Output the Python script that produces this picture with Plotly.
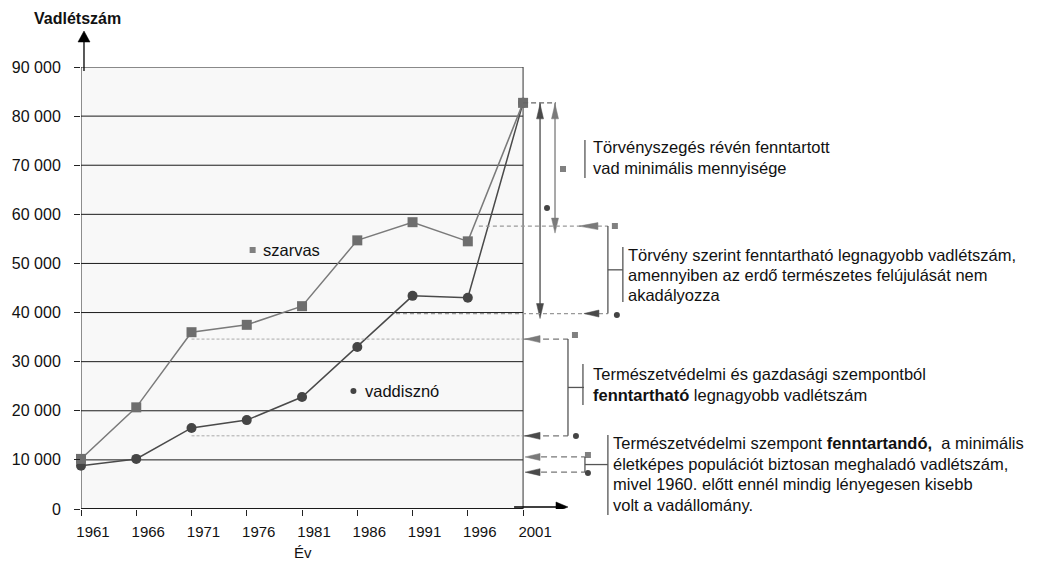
import plotly.graph_objects as go

# ---------------- data ----------------
years = [1961, 1966, 1971, 1976, 1981, 1986, 1991, 1996, 2001]
year_labels = [str(y) for y in years]
szarvas = [10200, 20700, 36000, 37500, 41300, 54700, 58400, 54500, 82700]
vaddiszno = [8800, 10200, 16500, 18100, 22800, 33000, 43400, 43000, 82700]

y_ticks = [0, 10000, 20000, 30000, 40000, 50000, 60000, 70000, 80000, 90000]
y_tick_labels = ["0", "10 000", "20 000", "30 000", "40 000", "50 000",
                 "60 000", "70 000", "80 000", "90 000"]

# reference levels: [szarvas, vaddisznó]
legal_max = [57600, 39800]        # Törvény szerint fenntartható legnagyobb
sustainable_max = [34600, 14900]  # természetvédelmi és gazdasági szempontból fenntartható
minimum_keep = [10600, 7500]      # fenntartandó minimális
peak = 82700

# ---------------- geometry (page pixels) ----------------
PAGE_W, PAGE_H = 1039, 561
BODY = 8                               # default body margin of the html page
PLOT_L, PLOT_R, PLOT_T, PLOT_B = 79, 1035, 67, 509
PX_FIRST, PX_LAST = 79, 522            # pixel of first / last year
Y_TOP = 90000
W, H = PAGE_W - BODY, PAGE_H - BODY
ML, MT = PLOT_L - BODY, PLOT_T - BODY
MR, MB = W - (PLOT_R - BODY), H - (PLOT_B - BODY)
plot_w = PLOT_R - PLOT_L
plot_h = PLOT_B - PLOT_T
px_per_year = (PX_LAST - PX_FIRST) / (years[-1] - years[0])
x_max = years[0] + plot_w / px_per_year


def X(px):   # page pixel -> x data
    return years[0] + (px - PLOT_L) / px_per_year


def Y(py):   # page pixel -> y data
    return (PLOT_B - py) * Y_TOP / plot_h


def PX(px):  # page pixel -> paper x
    return (px - PLOT_L) / plot_w


def PY(py):  # page pixel -> paper y
    return (PLOT_B - py) / plot_h


FONT = "Liberation Sans, Arial, sans-serif"
TXT = 16.5
C_SZ = "#7a7a7a"   # szarvas
C_VD = "#4a4a4a"   # vaddisznó
C_BR = "#555555"

shapes = []
annotations = []


def line(x0, y0, x1, y1, color=C_BR, width=1.3, dash=None, xref="x", yref="y", layer="above"):
    d = dict(type="line", x0=x0, y0=y0, x1=x1, y1=y1, xref=xref, yref=yref,
             line=dict(color=color, width=width), layer=layer)
    if dash:
        d["line"]["dash"] = dash
    shapes.append(d)


def head(x, y, direction, color, length=15, half=3.5, xref="x", yref="y", offset=0):
    if direction == "left":
        p = f"M{-offset},0 L{length - offset},{half} L{length - offset},{-half} Z"
    elif direction == "right":
        p = f"M{offset},0 L{offset - length},{half} L{offset - length},{-half} Z"
    elif direction == "up":
        p = f"M0,{offset} L{half},{offset - length} L{-half},{offset - length} Z"
    else:  # down
        p = f"M0,{-offset} L{half},{length - offset} L{-half},{length - offset} Z"
    shapes.append(dict(type="path", xref=xref, yref=yref, xsizemode="pixel", ysizemode="pixel",
                       xanchor=x, yanchor=y, path=p, fillcolor=color,
                       line=dict(color=color, width=0.5), layer="above"))


def text(x, y, s, xref="x", yref="y", size=TXT, anchor="left", color="#111"):
    annotations.append(dict(x=x, y=y, xref=xref, yref=yref, text=s, showarrow=False,
                            xanchor=anchor, yanchor="middle",
                            font=dict(family=FONT, size=size, color=color)))


# plot background and grid
shapes.append(dict(type="rect", x0=years[0], x1=years[-1], y0=0, y1=Y_TOP, xref="x", yref="y",
                   fillcolor="#f8f8f8", line=dict(width=0), layer="below"))
for v in y_ticks:
    line(years[0], v, years[-1], v, color="#1a1a1a", width=1.8 if v == 0 else 1, layer="below")
line(years[0], 0, years[0], Y_TOP, color="#222", width=1, layer="below")
line(years[-1], 0, years[-1], Y_TOP, color="#333", width=1, layer="below")

# axis arrows
line(PX(82), PY(71), PX(82), PY(41), color="#000", width=1.3, xref="paper", yref="paper")
head(PX(82), PY(31), "up", "#000", length=11, half=6, xref="paper", yref="paper")
line(X(513), Y(507), X(557), Y(507), color="#000", width=1.5)
head(X(567), Y(507), "right", "#000", length=12, half=5)

# vertical double arrows (2001 peak -> legal max)
xa, xb = X(539), X(554)
line(xa, peak, xa, legal_max[1], color=C_VD)
head(xa, peak, "up", C_VD, offset=-1)
head(xa, legal_max[1], "down", C_VD, offset=5)
line(xb, peak, xb, legal_max[0], color=C_SZ)
head(xb, peak, "up", C_SZ, offset=-1)
head(xb, legal_max[0], "down", C_SZ, offset=7)
line(years[-1], peak, X(555), peak, color="#666", width=1.3, dash="5px,3px")

# legal max rows
line(1997, legal_max[0], X(607), legal_max[0], color="#999", width=1.2, dash="4px,3px")
head(X(578), legal_max[0], "left", C_SZ, length=19, half=3.5)
line(1989.5, legal_max[1], X(607), legal_max[1], color="#999", width=1.2, dash="4px,3px")
head(X(583), legal_max[1], "left", C_VD, length=15, half=3.5)
line(X(607), legal_max[0], X(607), legal_max[1])
mid = (legal_max[0] + legal_max[1]) / 2
line(X(607), mid, X(622), mid)
line(X(622), Y(247), X(622), Y(302))

# sustainable rows
line(years[2], sustainable_max[0], years[-1], sustainable_max[0], color="#aaa", width=1, dash="3px,2px")
line(years[-1], sustainable_max[0], X(567), sustainable_max[0], color="#777", width=1.2, dash="6px,4px")
head(X(524), sustainable_max[0], "left", C_SZ)
line(years[2], sustainable_max[1], years[-1], sustainable_max[1], color="#aaa", width=1, dash="3px,2px")
line(years[-1], sustainable_max[1], X(567), sustainable_max[1], color="#777", width=1.2, dash="6px,4px")
head(X(524), sustainable_max[1], "left", C_VD)
line(X(567), sustainable_max[0], X(567), sustainable_max[1])
mid = (sustainable_max[0] + sustainable_max[1]) / 2
line(X(567), mid, X(583), mid)
line(X(582), Y(364), X(582), Y(405))

# minimum rows
line(X(530), minimum_keep[0], X(584), minimum_keep[0], color="#777", width=1.2, dash="6px,4px")
head(X(524), minimum_keep[0], "left", C_SZ)
line(X(530), minimum_keep[1], X(584), minimum_keep[1], color="#777", width=1.2, dash="6px,4px")
head(X(524), minimum_keep[1], "left", C_VD)
line(X(584), minimum_keep[0], X(584), minimum_keep[1])
mid = (minimum_keep[0] + minimum_keep[1]) / 2
line(X(584), mid, X(607), mid)
line(PX(607), PY(435), PX(607), PY(515), xref="paper", yref="paper")

# top text bar
line(X(584), Y(140), X(584), Y(178))

# ---------------- texts ----------------
text(PX(30), PY(19), "<b>Vadlétszám</b>", xref="paper", yref="paper", size=16)
text(PX(301), PY(552), "Év", xref="paper", yref="paper", anchor="center", size=15)
text(X(259), Y(250), "szarvas")
text(X(362), Y(391), "vaddisznó")
text(X(590), Y(147), "Törvényszegés révén fenntartott")
text(X(590), Y(168), "vad minimális mennyisége")
text(X(625), Y(255), "Törvény szerint fenntartható legnagyobb vadlétszám,")
text(X(625), Y(275), "amennyiben az erdő természetes felújulását nem")
text(X(625), Y(295), "akadályozza")
text(X(590), Y(374), "Természetvédelmi és gazdasági szempontból")
text(X(590), Y(395), "<b>fenntartható</b> legnagyobb vadlétszám")
text(X(610), Y(443), "Természetvédelmi szempont <b>fenntartandó,</b>  a minimális")
text(X(610), Y(464), "életképes populációt biztosan meghaladó vadlétszám,")
text(X(610), Y(484), "mivel 1960. előtt ennél mindig lényegesen kisebb")
text(X(610), Y(505), "volt a vadállomány.")

# ---------------- figure ----------------
fig = go.Figure()
fig.add_trace(go.Scatter(x=years, y=vaddiszno, mode="lines+markers", name="vaddisznó",
                         line=dict(color=C_VD, width=1.5),
                         marker=dict(symbol="circle", size=10, color="#454545"),
                         cliponaxis=False, showlegend=False))
fig.add_trace(go.Scatter(x=years, y=szarvas, mode="lines+markers", name="szarvas",
                         line=dict(color=C_SZ, width=1.5),
                         marker=dict(symbol="square", size=10, color="#6e6e6e"),
                         cliponaxis=False, showlegend=False))

# small species key markers
sq = [(251, 250), (562, 169), (614, 226), (574, 335), (587, 455)]
dt = [(352, 391), (546, 208), (616, 315), (575, 436), (587, 473)]
fig.add_trace(go.Scatter(x=[X(p[0]) for p in sq], y=[Y(p[1]) for p in sq], mode="markers",
                         marker=dict(symbol="square", size=6, color="#808080"),
                         cliponaxis=False, showlegend=False, hoverinfo="skip"))
fig.add_trace(go.Scatter(x=[X(p[0]) for p in dt], y=[Y(p[1]) for p in dt], mode="markers",
                         marker=dict(symbol="circle", size=6, color="#444"),
                         cliponaxis=False, showlegend=False, hoverinfo="skip"))

fig.update_layout(
    width=W, height=H,
    margin=dict(l=ML, r=MR, t=MT, b=MB, pad=0),
    paper_bgcolor="white", plot_bgcolor="white",
    font=dict(family=FONT, size=15, color="#111"),
    shapes=shapes, annotations=annotations,
    xaxis=dict(range=[years[0], x_max], tickvals=years, ticktext=year_labels,
               showgrid=False, zeroline=False, showline=False,
               ticks="outside", ticklen=6, tickcolor="#222", tickwidth=1,
               tickfont=dict(family=FONT, size=15, color="#111"),
               ticklabelstandoff=3, ticklabelshift=12),
    yaxis=dict(range=[0, Y_TOP], tickvals=y_ticks, ticktext=y_tick_labels,
               showgrid=False, zeroline=False, showline=False,
               ticks="outside", ticklen=6, tickcolor="#222", tickwidth=1,
               tickfont=dict(family=FONT, size=16, color="#111"), ticklabelstandoff=10),
    showlegend=False,
)

fig.write_html("out.html")
